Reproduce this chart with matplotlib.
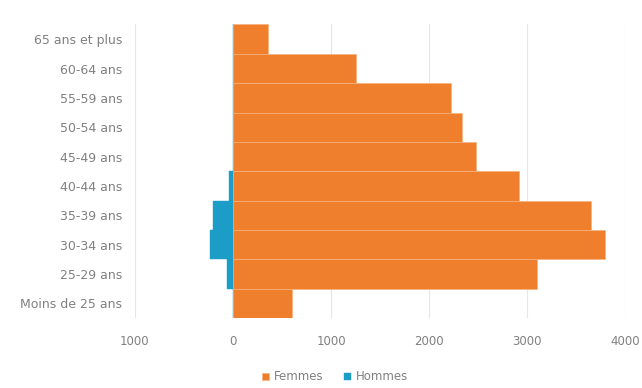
import matplotlib
matplotlib.use("Agg")
import matplotlib.pyplot as plt
from matplotlib.ticker import FuncFormatter

# ---------------- data ----------------
ages = ["65 ans et plus", "60-64 ans", "55-59 ans", "50-54 ans", "45-49 ans",
        "40-44 ans", "35-39 ans", "30-34 ans", "25-29 ans", "Moins de 25 ans"]
femmes = [360, 1255, 2225, 2340, 2480, 2920, 3655, 3790, 3095, 600]
hommes = [0, 0, 0, 0, 0, -40, -205, -235, -60, 0]
xticks = [-1000, 0, 1000, 2000, 3000, 4000]

orange = "#F07F2D"
teal = "#1B9DC7"
txt = "#808080"

plt.rcParams["font.family"] = ["DejaVu Sans"]

fig = plt.figure(figsize=(6.42, 3.88), dpi=100)
ax = fig.add_axes([0.210, 0.180, 0.764, 0.757])

pos = list(range(len(ages)))
ax.barh(pos, femmes, height=1.0, color=orange, edgecolor="#f6b27f", linewidth=0.5,
        label="Femmes", zorder=2)
ax.barh(pos, hommes, height=1.0, color=teal, edgecolor=teal, linewidth=0.3,
        label="Hommes", zorder=2)

ax.set_yticks(pos)
ax.set_yticklabels(ages)
ax.set_ylim(len(ages) - 0.5, -0.5)
ax.set_xlim(-1000, 4000)
ax.set_xticks(xticks)
ax.xaxis.set_major_formatter(FuncFormatter(lambda v, p: "%d" % abs(v)))

ax.grid(axis="x", color="#e6e6e6", linewidth=0.8, zorder=0)
for s in ax.spines.values():
    s.set_visible(False)
ax.tick_params(axis="both", length=0, labelsize=8.5, colors=txt)
ax.tick_params(axis="y", labelsize=9, pad=9)
ax.tick_params(axis="x", pad=12)

fig.legend(loc="center", bbox_to_anchor=(335 / 642, 1 - 377 / 388), ncol=2, frameon=False,
           fontsize=8.5, labelcolor=txt, handlelength=0.6, handleheight=0.6,
           handletextpad=0.4, columnspacing=1.8)

fig.savefig("out.png", dpi=100)
